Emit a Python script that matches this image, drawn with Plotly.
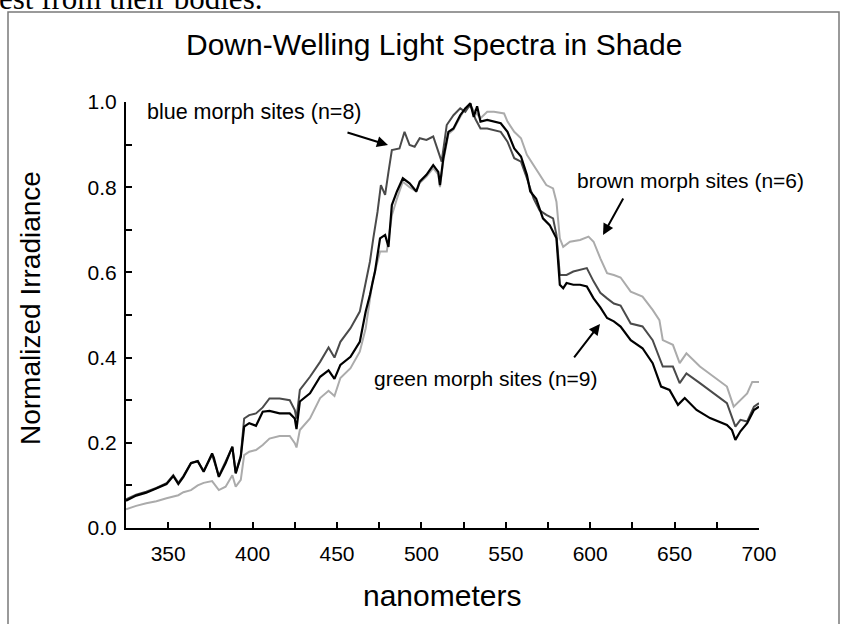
import plotly.graph_objects as go

# Wavelength (nm) and normalized irradiance for each site group
blue_nm = [325, 331, 337, 343, 349, 353, 356, 359, 363.5, 367.5, 371, 376, 380, 384, 388, 390, 393,
           395, 398, 402, 406, 410, 416, 422, 425, 426, 428, 434, 440, 445, 448.5, 452, 458, 463.5,
           465.5, 469.5, 471.5, 474, 476, 478.5, 480.5, 482.5, 487, 490, 493, 496, 499, 503, 507,
           511, 512, 515, 519, 523, 526, 529, 532, 535, 539, 547, 551, 555, 559, 562.5, 566.5, 570,
           574, 578, 580, 582, 586, 590, 594, 598, 602, 606, 610, 614, 618, 624, 631, 637, 643, 649,
           653, 657, 665, 673, 681, 686, 689, 693, 697, 700]
blue_val = [0.067, 0.078, 0.085, 0.094, 0.105, 0.124, 0.106, 0.122, 0.153, 0.157, 0.134, 0.172, 0.122,
            0.155, 0.190, 0.130, 0.170, 0.257, 0.265, 0.269, 0.283, 0.304, 0.304, 0.300, 0.277, 0.257,
            0.324, 0.355, 0.390, 0.424, 0.400, 0.437, 0.469, 0.508, 0.547, 0.625, 0.680, 0.742, 0.805,
            0.782, 0.836, 0.887, 0.891, 0.930, 0.899, 0.895, 0.915, 0.911, 0.919, 0.868, 0.860, 0.946,
            0.969, 0.985, 0.977, 0.995, 0.960, 0.938, 0.938, 0.930, 0.907, 0.868, 0.860, 0.821, 0.773,
            0.746, 0.735, 0.727, 0.688, 0.594, 0.594, 0.602, 0.606, 0.610, 0.579, 0.552, 0.539, 0.527,
            0.522, 0.480, 0.473, 0.441, 0.379, 0.379, 0.340, 0.363, 0.340, 0.316, 0.293, 0.238, 0.254,
            0.250, 0.285, 0.293]

green_nm = [325, 331, 337, 343, 349, 353, 356, 359, 363.5, 367.5, 371, 376, 377, 380, 384, 388, 390, 393,
            395, 398, 402, 406, 410, 416, 422, 425, 426, 428, 434, 440, 445, 448.5, 452, 458, 463.5,
            467, 469.5, 472.5, 475.5, 478.5, 480.5, 482.5, 485.5, 489, 493, 497, 499, 503, 507, 510,
            511, 513, 516, 519, 523, 526, 529, 531, 533, 535, 539, 547, 551, 555, 559, 562.5, 564.5,
            568, 570, 572, 576, 580, 582, 584, 586, 590, 594, 598, 602, 606, 610, 614, 618, 624, 631,
            637, 642, 647, 652, 656, 663, 671, 681, 684, 686, 689, 693, 697, 700]
green_val = [0.064, 0.076, 0.083, 0.093, 0.103, 0.122, 0.103, 0.120, 0.152, 0.157, 0.132, 0.175, 0.165,
             0.120, 0.152, 0.191, 0.128, 0.167, 0.238, 0.246, 0.240, 0.273, 0.275, 0.269, 0.269, 0.257,
             0.232, 0.297, 0.316, 0.355, 0.370, 0.350, 0.383, 0.402, 0.437, 0.508, 0.547, 0.602, 0.680,
             0.688, 0.660, 0.758, 0.790, 0.821, 0.809, 0.790, 0.813, 0.829, 0.852, 0.836, 0.805, 0.868,
             0.930, 0.938, 0.969, 0.985, 0.997, 0.965, 0.990, 0.954, 0.958, 0.950, 0.930, 0.891, 0.872,
             0.829, 0.790, 0.773, 0.750, 0.727, 0.711, 0.680, 0.571, 0.563, 0.575, 0.571, 0.571, 0.567,
             0.539, 0.518, 0.493, 0.485, 0.473, 0.441, 0.422, 0.387, 0.332, 0.324, 0.289, 0.305, 0.277,
             0.258, 0.242, 0.230, 0.207, 0.227, 0.246, 0.277, 0.285]

brown_nm = [325, 331, 337, 343, 349, 353, 356, 359, 363.5, 367.5, 371, 376, 380, 384, 388, 390, 393,
            395, 398, 402, 406, 410, 416, 422, 425, 426, 428, 434, 440, 445, 448.5, 452, 458, 463.5,
            467, 471, 475.5, 479.5, 482.5, 485.5, 489, 493, 497, 499, 503, 507, 510, 511, 513, 516,
            519, 523, 526, 529, 533, 535, 539, 543, 549, 551, 555, 559, 562.5, 566.5, 570, 574, 578,
            580, 582, 584, 588, 594, 599, 602, 606, 610, 614, 618, 624, 631, 637, 641, 643, 649, 653,
            657, 665, 673, 681, 685, 689, 693, 696, 700]
brown_val = [0.044, 0.052, 0.058, 0.063, 0.070, 0.075, 0.077, 0.084, 0.089, 0.100, 0.106, 0.110, 0.089,
             0.097, 0.124, 0.097, 0.113, 0.171, 0.179, 0.183, 0.195, 0.210, 0.216, 0.216, 0.199, 0.189,
             0.230, 0.257, 0.305, 0.322, 0.310, 0.352, 0.375, 0.414, 0.469, 0.578, 0.649, 0.649, 0.734,
             0.773, 0.813, 0.800, 0.790, 0.810, 0.825, 0.845, 0.830, 0.800, 0.862, 0.925, 0.935, 0.965,
             0.985, 0.990, 0.970, 0.962, 0.977, 0.977, 0.973, 0.954, 0.930, 0.915, 0.876, 0.852, 0.829,
             0.805, 0.797, 0.766, 0.680, 0.660, 0.672, 0.676, 0.684, 0.672, 0.633, 0.598, 0.594, 0.588,
             0.555, 0.543, 0.512, 0.488, 0.441, 0.430, 0.387, 0.410, 0.379, 0.355, 0.332, 0.285, 0.301,
             0.316, 0.343, 0.343]

x_ticks = [350, 400, 450, 500, 550, 600, 650, 700]
y_ticks = [0.0, 0.2, 0.4, 0.6, 0.8, 1.0]

FONT = "Liberation Sans, Arial, sans-serif"

fig = go.Figure()
fig.add_trace(go.Scatter(x=brown_nm, y=brown_val, mode="lines",
                         line=dict(color="#ababab", width=2), name="brown morph sites"))
fig.add_trace(go.Scatter(x=blue_nm, y=blue_val, mode="lines",
                         line=dict(color="#4a4a4a", width=2), name="blue morph sites"))
fig.add_trace(go.Scatter(x=green_nm, y=green_val, mode="lines",
                         line=dict(color="#000000", width=2.2), name="green morph sites"))

# plot area: x 126..759 px, y 102..528 px
L, R, T, B = 126, 759, 102, 528
W, H = 842, 624


def px(xp):
    return (xp - L) / (R - L)


def py(yp):
    return (B - yp) / (B - T)


annotations = [
    # chart title and axis titles
    dict(text="Down-Welling Light Spectra in Shade", x=px(434), y=py(44), xref="paper", yref="paper",
         showarrow=False, font=dict(size=30, color="black", family=FONT), xanchor="center", yanchor="middle"),
    dict(text="Normalized Irradiance", x=px(30), y=py(308), xref="paper", yref="paper", textangle=-90,
         showarrow=False, font=dict(size=28, color="black", family=FONT), xanchor="center", yanchor="middle"),
    dict(text="nanometers", x=px(442), y=py(595), xref="paper", yref="paper",
         showarrow=False, font=dict(size=30, color="black", family=FONT), xanchor="center", yanchor="middle"),
    # caption line of the surrounding page
    dict(text="est from their bodies.", x=px(-3), y=py(-1), xref="paper", yref="paper",
         showarrow=False, font=dict(size=31, color="black", family="Liberation Serif, Times New Roman, serif"),
         xanchor="left", yanchor="middle"),
    # series labels
    dict(text="blue morph sites (n=8)", x=px(254), y=py(112), xref="paper", yref="paper",
         showarrow=False, font=dict(size=21.5, color="black", family=FONT), xanchor="center", yanchor="middle"),
    dict(text="brown morph sites (n=6)", x=px(690), y=py(180), xref="paper", yref="paper",
         showarrow=False, font=dict(size=21, color="black", family=FONT), xanchor="center", yanchor="middle"),
    dict(text="green morph sites (n=9)", x=px(486), y=py(378), xref="paper", yref="paper",
         showarrow=False, font=dict(size=21, color="black", family=FONT), xanchor="center", yanchor="middle"),
    # arrows pointing at the curves
    dict(text="", x=480.2, y=0.899, xref="x", yref="y", ax=-42, ay=-13, showarrow=True,
         arrowhead=2, arrowsize=1.1, arrowwidth=2, arrowcolor="black"),
    dict(text="", x=607.6, y=0.688, xref="x", yref="y", ax=21, ay=-38, showarrow=True,
         arrowhead=2, arrowsize=1.1, arrowwidth=2, arrowcolor="black"),
    dict(text="", x=605.8, y=0.479, xref="x", yref="y", ax=-27, ay=35, showarrow=True,
         arrowhead=2, arrowsize=1.1, arrowwidth=2, arrowcolor="black"),
]

fig.update_layout(
    width=W, height=H,
    margin=dict(l=L, r=W - R, t=T, b=H - B, pad=0),
    paper_bgcolor="white", plot_bgcolor="white",
    showlegend=False,
    font=dict(family=FONT, color="black"),
    annotations=annotations,
    shapes=[dict(type="rect", xref="paper", yref="paper",
                 x0=px(8), x1=px(839), y0=py(660), y1=py(12),
                 line=dict(color="#7a7a7a", width=1.5), layer="below")],
)

fig.update_xaxes(range=[325, 700], tickvals=x_ticks, ticktext=[str(v) for v in x_ticks],
                 ticks="inside", ticklen=6, tickwidth=2, tickcolor="black", ticklabelstandoff=6,
                 minor=dict(tickvals=[325, 375, 425, 475, 525, 575, 625, 675], ticks="inside",
                            ticklen=6, tickwidth=2, tickcolor="black"),
                 showline=True, linecolor="black", linewidth=2, showgrid=False, zeroline=False,
                 tickfont=dict(size=21, family=FONT, color="black"))
fig.update_yaxes(range=[0, 1.0], tickvals=y_ticks, ticktext=[f"{v:.1f}" for v in y_ticks],
                 ticks="inside", ticklen=6, tickwidth=2, tickcolor="black", ticklabelstandoff=3,
                 minor=dict(tickvals=[0.1, 0.3, 0.5, 0.7, 0.9], ticks="inside",
                            ticklen=6, tickwidth=2, tickcolor="black"),
                 showline=True, linecolor="black", linewidth=2, showgrid=False, zeroline=False,
                 tickfont=dict(size=21, family=FONT, color="black"))

fig.write_html("out.html")
